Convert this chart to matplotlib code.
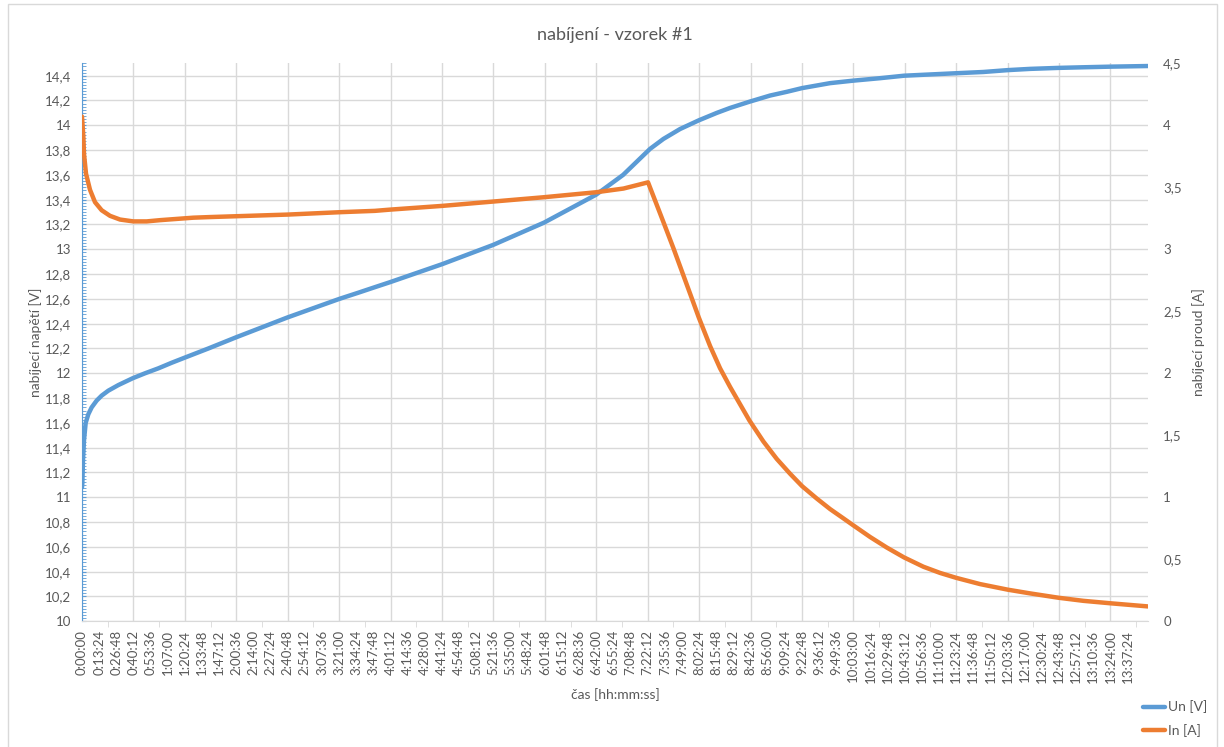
import matplotlib
matplotlib.use("Agg")
import matplotlib.pyplot as plt
from matplotlib.ticker import FuncFormatter, MultipleLocator
from matplotlib.patches import Rectangle

plt.rcParams['font.family'] = ['Lato', 'DejaVu Sans']

# charging voltage, time in seconds
t_u = [0, 16, 47, 94, 172, 297, 453, 688, 922, 1235, 1704, 2376, 2955, 3581,
       4206, 4800, 5925, 7224, 8428, 9631, 10930, 12070, 12962, 13745, 14450,
       16890, 19280, 21670, 24110, 25380, 26645, 27270, 28052, 28930,
       29773, 30398, 31303, 32274, 33056, 33775, 35089, 36168, 37434, 38560,
       39779, 41015, 42280, 43424, 44471, 45800, 46972, 48257, 49993]
u_n = [11.08, 11.11, 11.30, 11.46, 11.60, 11.67, 11.725, 11.78, 11.82, 11.86,
       11.905, 11.96, 12.00, 12.04, 12.085, 12.125, 12.20, 12.29, 12.37, 12.45,
       12.53, 12.60, 12.65, 12.695, 12.735, 12.88, 13.035, 13.215, 13.44, 13.60,
       13.81, 13.89, 13.97, 14.04, 14.10, 14.14, 14.19, 14.24, 14.27, 14.30,
       14.34, 14.36, 14.38, 14.40, 14.41, 14.42, 14.43, 14.445, 14.455, 14.463,
       14.468, 14.473, 14.478]

# charging current
t_i = [0, 63, 94, 188, 375, 610, 922, 1313, 1783, 2408, 3033, 3659, 4441,
       5222, 6004, 9648, 12200, 13740, 14450, 16890, 19280, 21670, 24110,
       25400, 26550, 27270, 27738, 28207, 28676, 28930, 29459, 29929, 30398,
       30867, 31303, 31960, 32585, 33212, 33775, 34464, 35089, 35714, 36168,
       36965, 37747, 38560, 39466, 40249, 41015, 42125, 43424, 44471, 45800,
       46972, 48257, 49993]
i_n = [4.07, 3.91, 3.77, 3.61, 3.48, 3.38, 3.315, 3.27, 3.24, 3.225, 3.225,
       3.235, 3.245, 3.255, 3.26, 3.28, 3.30, 3.31, 3.32, 3.35, 3.385, 3.42,
       3.46, 3.49, 3.54, 3.22, 3.01, 2.79, 2.57, 2.45, 2.22, 2.04, 1.89, 1.75,
       1.62, 1.45, 1.31, 1.19, 1.09, 0.99, 0.905, 0.83, 0.775, 0.68, 0.595,
       0.515, 0.44, 0.39, 0.35, 0.30, 0.255, 0.225, 0.19, 0.165, 0.145, 0.12]

label_step = 804      # one x label every 0:13:24
n_labels = 62
grid_step = 2412      # vertical grid every 0:40:12

blue = '#5b9bd5'
orange = '#ed7d31'
grey = '#595959'
gridc = '#d9d9d9'


def hms(v, pos=None):
    s = int(round(v))
    return f"{s // 3600}:{(s % 3600) // 60:02d}:{s % 60:02d}"


def comma(v, pos=None):
    return f"{round(v, 3):g}".replace('.', ',')


fig = plt.figure(figsize=(12.24, 7.47), dpi=100)
ax = fig.add_axes([82 / 1224, 1 - 621.3 / 747, (1148 - 82) / 1224, (621.3 - 63.3) / 747])
ax2 = ax.twinx()

ax.plot(t_u, u_n, color=blue, lw=3.2, label='Un [V]', solid_capstyle='round')
ax2.plot(t_i, i_n, color=orange, lw=3.2, label='In [A]', solid_capstyle='round')

ax.set_xlim(0, 50000)
ax.set_ylim(10, 14.5)
ax2.set_ylim(0, 4.5)

# x axis
ax.set_xticks([k * label_step for k in range(n_labels)])
ax.xaxis.set_major_formatter(FuncFormatter(hms))
ax.xaxis.set_minor_locator(MultipleLocator(grid_step / 2))
ax.tick_params(axis='x', which='major', length=0, pad=6, labelrotation=90,
               labelsize=9.5, labelcolor=grey)
ax.tick_params(axis='x', which='minor', length=4, color=gridc, direction='out')
for v in range(0, 50001, grid_step):
    ax.axvline(v, color=gridc, lw=1, zorder=0)

# left axis
ax.yaxis.set_major_locator(MultipleLocator(0.2))
ax.yaxis.set_minor_locator(MultipleLocator(0.025))
ax.yaxis.set_major_formatter(FuncFormatter(comma))
ax.tick_params(axis='y', which='both', direction='in', color=blue, length=3,
               labelsize=9.5, labelcolor=grey, pad=8)
ax.grid(axis='y', color=gridc, lw=1)
ax.set_axisbelow(True)

# right axis
ax2.yaxis.set_major_locator(MultipleLocator(0.5))
ax2.yaxis.set_major_formatter(FuncFormatter(comma))
ax2.tick_params(axis='y', length=0, labelsize=9.5, labelcolor=grey, pad=11)

for a in (ax, ax2):
    for s in a.spines.values():
        s.set_visible(False)
ax.spines['left'].set_visible(True)
ax.spines['left'].set_color(blue)
ax.spines['bottom'].set_visible(True)
ax.spines['bottom'].set_color(gridc)

ax.set_title('nabíjení - vzorek #1', fontsize=13, color=grey, pad=17)
ax.set_xlabel('čas [hh:mm:ss]', fontsize=10, color=grey, labelpad=4)
ax.set_ylabel('nabíjecí napětí [V]', fontsize=10, color=grey, labelpad=2)
ax2.set_ylabel('nabíjecí proud [A]', fontsize=10, color=grey, labelpad=7)

h1, l1 = ax.get_legend_handles_labels()
h2, l2 = ax2.get_legend_handles_labels()
fig.legend(h1 + h2, l1 + l2, loc='upper left',
           bbox_to_anchor=(1130 / 1224, 1 - 688 / 747), frameon=False,
           fontsize=10, handlelength=1.6, handletextpad=0.2, labelspacing=0.75,
           labelcolor=grey)

# chart border
fig.patches.append(Rectangle((8 / 1224, -0.01), (1217 - 8) / 1224, 1.01 - 4 / 747,
                             transform=fig.transFigure, fill=False,
                             edgecolor=gridc, lw=1))

fig.savefig('out.png', dpi=100)
